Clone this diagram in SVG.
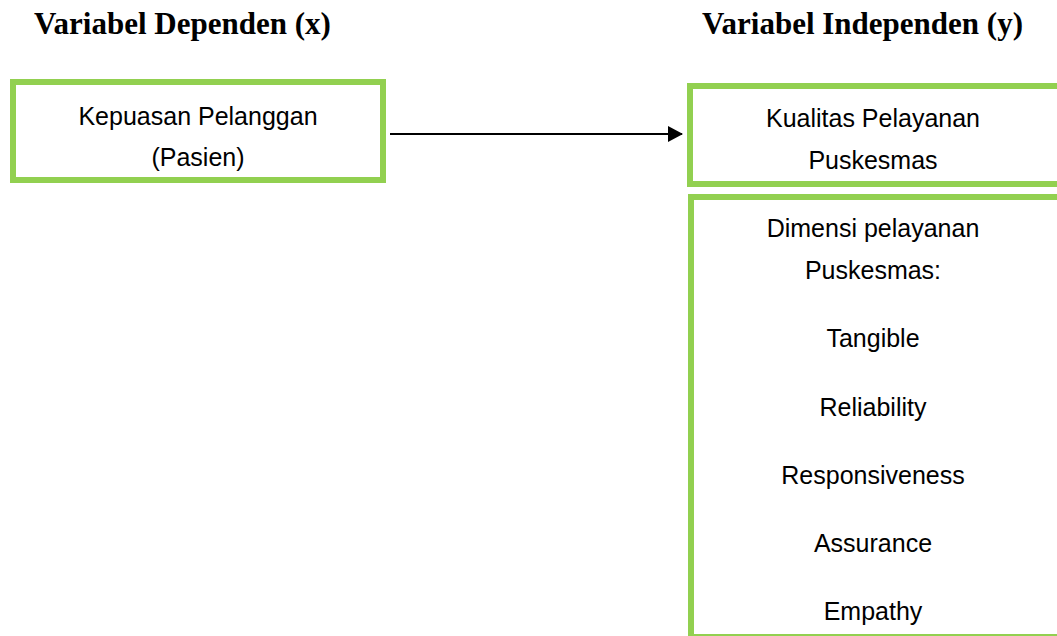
<svg xmlns="http://www.w3.org/2000/svg" width="1057" height="636" viewBox="0 0 1057 636">
<style>
.box{fill:#ffffff;stroke:#92D050;stroke-width:6}
.t{font-family:"Liberation Sans",Arial,sans-serif;font-size:25px;fill:#000;text-anchor:middle}
.h{font-family:"Liberation Serif","Times New Roman",serif;font-size:31px;font-weight:bold;fill:#000}
.c{stroke:#000;stroke-width:2;fill:none}
</style>
<defs>
<marker id="arr" markerWidth="16" markerHeight="16" refX="14" refY="8" orient="auto" markerUnits="userSpaceOnUse">
<path d="M0,0 L15,8 L0,16 Z" fill="#000"/>
</marker>
</defs>
<rect width="1057" height="636" fill="#ffffff"/>
<text class="h" x="34" y="34">Variabel Dependen (x)</text>
<text class="h" x="702" y="34">Variabel Independen (y)</text>
<g id="node-kepuasan">
<rect class="box" x="13" y="82" width="370" height="98"/>
<text class="t" x="198" y="125">Kepuasan Pelanggan</text>
<text class="t" x="198" y="166">(Pasien)</text>
</g>
<g id="node-kualitas">
<rect class="box" x="690" y="86" width="380" height="98"/>
<text class="t" x="873" y="127">Kualitas Pelayanan</text>
<text class="t" x="873" y="169">Puskesmas</text>
</g>
<g id="node-dimensi">
<rect class="box" x="691" y="197" width="380" height="440"/>
<text class="t" x="873" y="237">Dimensi pelayanan</text>
<text class="t" x="873" y="279">Puskesmas:</text>
<text class="t" x="873" y="347">Tangible</text>
<text class="t" x="873" y="416">Reliability</text>
<text class="t" x="873" y="484">Responsiveness</text>
<text class="t" x="873" y="552">Assurance</text>
<text class="t" x="873" y="620">Empathy</text>
</g>
<g id="connectors">
<line class="c" x1="390" y1="134" x2="682" y2="134" marker-end="url(#arr)"/>
</g>
</svg>
